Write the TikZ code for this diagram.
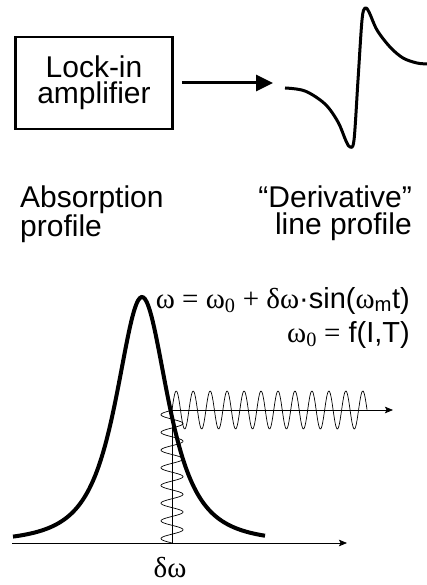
\documentclass[tikz,border=0pt]{standalone}
\usepackage{fontspec}
\setmainfont{Liberation Sans}
\newfontfamily\grk{Liberation Serif}
\usetikzlibrary{arrows.meta, positioning, calc}

\begin{document}
\begin{tikzpicture}[
    x=1pt, y=-1pt,
    plain/.style={inner sep=0pt, font=\fontsize{30}{27}\selectfont},
    formula/.style={inner sep=0pt, font=\fontsize{29}{30}\selectfont},
    lockbox/.style={draw, line width=2.7pt, minimum width=157pt, minimum height=92pt,
        align=center, inner sep=0pt, font=\fontsize{30}{26}\selectfont},
    feed/.style={-{Triangle[length=17pt, width=16pt]}, line width=3pt},
    axis/.style={-{Stealth[length=8pt, width=6.5pt, inset=1.5pt]}, line width=0.8pt},
    wave/.style={line width=0.7pt},
    profile/.style={line width=4pt},
    signal/.style={line width=3pt, line join=round}
]
\useasboundingbox (0,0) rectangle (426,585);

% lock-in detection
\node[lockbox] (lockin) at (94,83) {Lock-in\\amplifier};
\coordinate (tip) at (273,83);
\draw[feed, shorten <=8pt] (lockin.east) -- (tip);
\draw[signal] plot[smooth, tension=0.55] coordinates {(285,88) (305,91) (325,104)
    (338,122) (346,141) (350,147) (354,140) (358,80) (362,20) (365,8) (369,12)
    (377,30) (390,47) (403,58) (417,63) (428,64)};

\node[plain, anchor=north west, align=left] (absorb) at (20,185.5) {Absorption\\profile};
\node[plain, anchor=north east, align=right] (derivtext) at (412,186) {“Derivative”\\line profile};

% modulation equations
\node[formula, anchor=base east] (modeq) at (410,308)
    {{\grk ω = ω\textsubscript{0} + δω}·sin({\grk ω}\textsubscript{m}t)};
\node[formula, anchor=base east] (centereq) at (410,342) {{\grk ω\textsubscript{0} =} f(I,T)};

% absorption line and modulated laser
\draw[profile] plot[domain=13:265, samples=150, smooth]
    (\x, {543-246/((1+((\x-142)/40)^2)*sqrt(1+((\x-142)/40)^2))});

\coordinate (origin) at (12,543);
\coordinate (xend) at (347,543);
\coordinate (probe) at (172,543);
\coordinate (probetop) at (172,410);
\coordinate (tend) at (393,410);
\draw[axis] (origin) -- (xend);
\draw[wave] (probe) -- (probetop);
\draw[axis] (probetop) -- (tend);
\draw[wave] plot[domain=0:132.75, samples=240, smooth] ({172-11*sin(360*(\x/17.7))}, {543-\x});
\draw[wave] plot[domain=0:195, samples=300, smooth] ({172+\x}, {410-19*sin(360*(\x/16.96))});

\node[formula, anchor=base] (dw) at (170,577) {\grk δω};
\end{tikzpicture}
\end{document}
